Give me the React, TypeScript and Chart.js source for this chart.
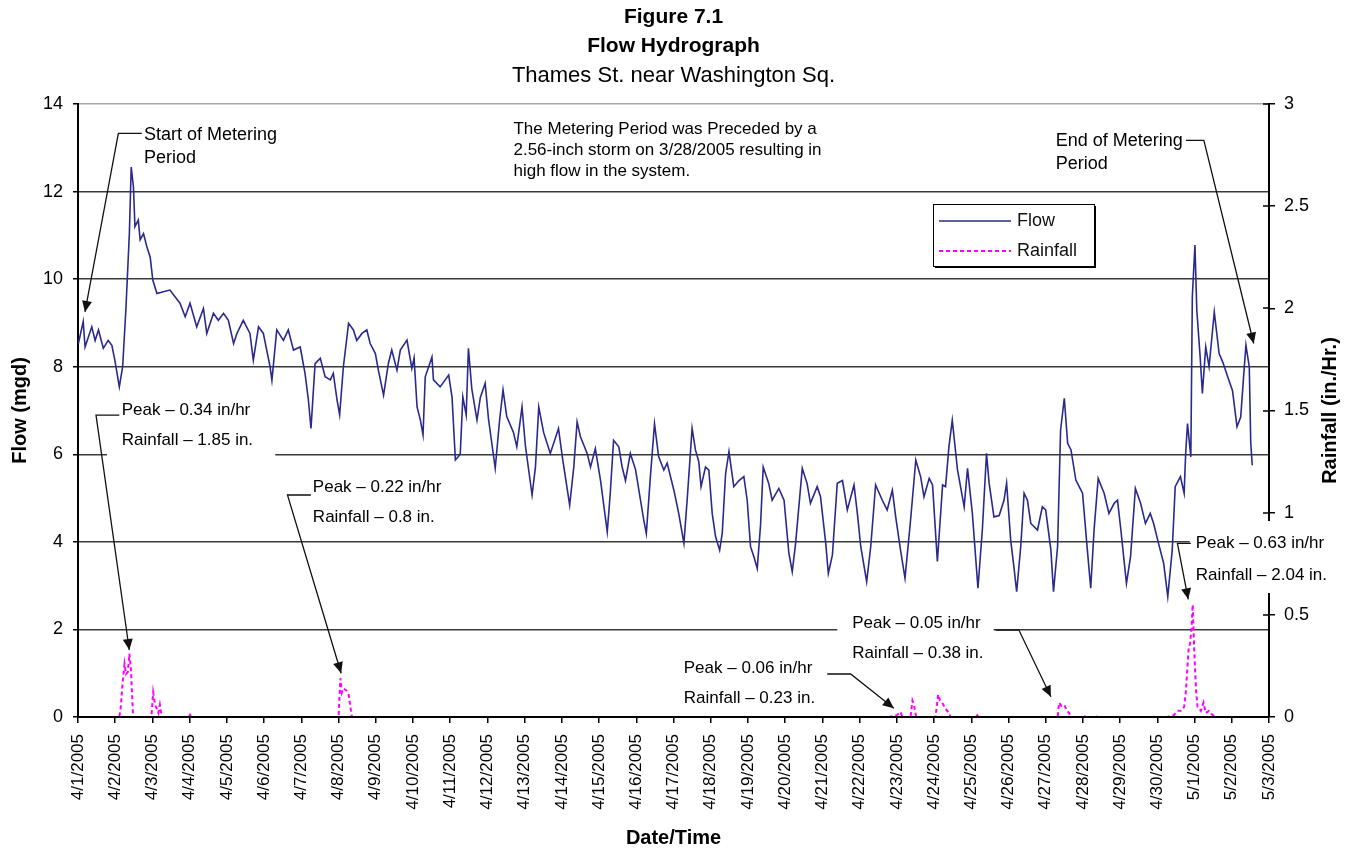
import React, { useEffect, useRef } from 'react';
import { Chart, registerables } from 'chart.js';

Chart.register(...registerables);

const FONT = "'Liberation Sans', Arial, Helvetica, sans-serif";

const dateLabels = [
  '4/1/2005', '4/2/2005', '4/3/2005', '4/4/2005', '4/5/2005', '4/6/2005', '4/7/2005', '4/8/2005',
  '4/9/2005', '4/10/2005', '4/11/2005', '4/12/2005', '4/13/2005', '4/14/2005', '4/15/2005', '4/16/2005',
  '4/17/2005', '4/18/2005', '4/19/2005', '4/20/2005', '4/21/2005', '4/22/2005', '4/23/2005', '4/24/2005',
  '4/25/2005', '4/26/2005', '4/27/2005', '4/28/2005', '4/29/2005', '4/30/2005', '5/1/2005', '5/2/2005',
  '5/3/2005',
];

// time in days since 4/1/2005 00:00
const flowDays = [
  0.01, 0.14, 0.19, 0.37, 0.46, 0.55, 0.68, 0.81, 0.91, 0.99, 1.11, 1.2, 1.29, 1.38, 1.43, 1.49, 1.53, 1.62, 1.67, 1.76,
  1.85, 1.94, 2.01, 2.12, 2.29, 2.47, 2.74, 2.88, 3.01, 3.19, 3.37, 3.46, 3.64, 3.77, 3.91, 4.04, 4.18, 4.27, 4.44, 4.62,
  4.71, 4.85, 4.98, 5.16, 5.21, 5.34, 5.52, 5.65, 5.79, 5.97, 6.1, 6.19, 6.26, 6.37, 6.51, 6.64, 6.78, 6.86, 6.96, 7.03,
  7.13, 7.27, 7.4, 7.49, 7.63, 7.76, 7.85, 7.99, 8.07, 8.21, 8.34, 8.43, 8.57, 8.66, 8.84, 8.97, 9.03, 9.11, 9.2, 9.27,
  9.33, 9.51, 9.55, 9.73, 9.96, 10.05, 10.14, 10.27, 10.34, 10.43, 10.49, 10.58, 10.72, 10.81, 10.94, 11.03, 11.21, 11.33, 11.42, 11.52,
  11.7, 11.79, 11.93, 12.02, 12.2, 12.29, 12.38, 12.51, 12.69, 12.91, 13.01, 13.21, 13.32, 13.41, 13.5, 13.68, 13.77, 13.9, 14.04, 14.22,
  14.3, 14.39, 14.53, 14.62, 14.71, 14.84, 14.98, 15.2, 15.27, 15.38, 15.49, 15.6, 15.74, 15.83, 16.01, 16.14, 16.28, 16.37, 16.5, 16.59,
  16.68, 16.74, 16.86, 16.95, 17.04, 17.13, 17.24, 17.31, 17.4, 17.49, 17.62, 17.76, 17.89, 17.98, 18.07, 18.16, 18.25, 18.34, 18.41, 18.56,
  18.65, 18.83, 18.97, 19.1, 19.19, 19.28, 19.46, 19.59, 19.68, 19.86, 19.95, 20.09, 20.16, 20.27, 20.4, 20.54, 20.67, 20.85, 20.94, 21.03,
  21.19, 21.3, 21.43, 21.61, 21.74, 21.88, 21.97, 22.1, 22.22, 22.37, 22.51, 22.64, 22.73, 22.87, 22.96, 23.09, 23.23, 23.31, 23.4, 23.49,
  23.63, 23.81, 23.9, 24.03, 24.18, 24.3, 24.41, 24.48, 24.61, 24.75, 24.88, 24.95, 25.06, 25.15, 25.22, 25.33, 25.42, 25.51, 25.6, 25.78,
  25.91, 26.0, 26.14, 26.21, 26.32, 26.4, 26.5, 26.59, 26.68, 26.81, 26.9, 26.99, 27.12, 27.21, 27.3, 27.41, 27.57, 27.7, 27.84, 27.93,
  28.02, 28.17, 28.28, 28.41, 28.55, 28.68, 28.81, 28.9, 29.03, 29.17, 29.28, 29.4, 29.48, 29.62, 29.72, 29.76, 29.81, 29.9, 29.94, 30.01,
  30.06, 30.15, 30.21, 30.3, 30.39, 30.53, 30.66, 30.76, 30.89, 31.02, 31.14, 31.24, 31.33, 31.38, 31.47, 31.51, 31.55,
];

// flow in mgd
const flowValues = [
  8.53, 9.03, 8.45, 8.91, 8.6, 8.84, 8.42, 8.6, 8.49, 8.15, 7.54, 8.0, 9.37, 11.04, 12.56, 12.1, 11.2, 11.35, 10.9, 11.04,
  10.74, 10.5, 9.98, 9.67, 9.71, 9.75, 9.45, 9.14, 9.45, 8.91, 9.33, 8.76, 9.22, 9.06, 9.22, 9.06, 8.53, 8.76, 9.06, 8.76,
  8.15, 8.91, 8.76, 8.0, 7.69, 8.84, 8.6, 8.84, 8.38, 8.45, 7.85, 7.24, 6.59, 8.07, 8.19, 7.77, 7.7, 7.85, 7.24, 6.9,
  8.0, 8.99, 8.84, 8.6, 8.76, 8.84, 8.53, 8.3, 7.92, 7.35, 8.08, 8.38, 7.92, 8.38, 8.61, 7.96, 8.2, 7.08, 6.78, 6.44,
  7.77, 8.22, 7.7, 7.54, 7.81, 7.3, 5.87, 6.0, 7.31, 6.9, 8.42, 7.5, 6.78, 7.3, 7.62, 6.8, 5.68, 6.8, 7.47, 6.86,
  6.5, 6.17, 7.08, 6.2, 5.07, 5.7, 7.08, 6.5, 6.02, 6.59, 5.96, 4.84, 5.7, 6.74, 6.4, 6.02, 5.71, 6.13, 5.4, 4.23,
  5.1, 6.32, 6.17, 5.71, 5.4, 6.02, 5.65, 4.5, 4.19, 5.5, 6.7, 5.95, 5.64, 5.8, 5.18, 4.65, 3.97, 5.0, 6.59, 6.1,
  5.83, 5.26, 5.71, 5.64, 4.65, 4.12, 3.81, 4.2, 5.56, 6.06, 5.26, 5.4, 5.49, 4.95, 3.89, 3.66, 3.39, 4.4, 5.71, 5.33,
  4.95, 5.22, 4.95, 3.74, 3.32, 3.96, 5.68, 5.33, 4.88, 5.26, 5.03, 3.97, 3.28, 3.7, 5.34, 5.4, 4.73, 5.3, 4.65, 3.9,
  3.09, 3.9, 5.3, 4.95, 4.73, 5.18, 4.57, 3.81, 3.17, 4.5, 5.87, 5.49, 5.03, 5.45, 5.3, 3.55, 5.3, 5.26, 6.17, 6.78,
  5.65, 4.8, 5.68, 4.65, 2.94, 4.3, 6.02, 5.34, 4.57, 4.6, 4.95, 5.34, 4.04, 3.4, 2.86, 3.9, 5.11, 4.95, 4.42, 4.27,
  4.8, 4.73, 3.81, 2.86, 3.9, 6.55, 7.28, 6.25, 6.1, 5.41, 5.26, 5.11, 3.81, 2.94, 4.27, 5.45, 5.11, 4.65, 4.88, 4.95,
  4.27, 3.05, 3.66, 5.22, 4.88, 4.42, 4.65, 4.42, 3.97, 3.51, 2.75, 3.81, 5.26, 5.49, 5.11, 6.0, 6.7, 5.94, 9.6, 10.78,
  9.29, 8.23, 7.39, 8.45, 8.0, 9.25, 8.3, 8.1, 7.77, 7.45, 6.63, 6.85, 7.92, 8.49, 8.0, 6.25, 5.75,
];

const rainDays = [
  0, 1.11, 1.15, 1.19, 1.25, 1.29, 1.34, 1.38, 1.42, 1.45, 1.48, 1.94, 1.98, 2.02, 2.07, 2.12, 2.16, 2.2, 2.25,
  2.98, 3.01, 3.04, 7.0, 7.05, 7.09, 7.13, 7.21, 7.27, 7.31, 7.36, 21.79, 22.01, 22.1, 22.15, 22.37, 22.42, 22.46, 22.52,
  23.04, 23.11, 23.16, 23.22, 23.31, 23.4, 23.45, 24.13, 24.16, 24.19, 26.32, 26.36, 26.42, 26.5, 26.57, 26.63, 26.67,
  27.0, 27.03, 27.06, 27.32, 27.35, 27.38, 29.27, 29.45, 29.54, 29.63, 29.72, 29.77, 29.81, 29.84, 29.88, 29.92, 29.95,
  29.99, 30.04, 30.08, 30.17, 30.24, 30.3, 30.39, 30.48, 30.57, 31.44, 31.47, 31.5, 31.55,
];

// rainfall intensity in in./hr
const rainValues = [
  0, 0, 0.05, 0.15, 0.26, 0.21, 0.22, 0.31, 0.24, 0.12, 0, 0, 0.02, 0.12, 0.06, 0.04, 0.02, 0.06, 0,
  0, 0.01, 0, 0, 0.19, 0.12, 0.14, 0.13, 0.11, 0.06, 0, 0, 0.01, 0.025, 0, 0, 0.08, 0.06, 0,
  0, 0.11, 0.08, 0.07, 0.04, 0.02, 0, 0, 0.008, 0, 0, 0.07, 0.055, 0.06, 0.03, 0.02, 0,
  0, 0.008, 0, 0, 0.008, 0, 0, 0.01, 0.03, 0.03, 0.05, 0.13, 0.25, 0.33, 0.36, 0.44, 0.55,
  0.33, 0.13, 0.05, 0.03, 0.07, 0.02, 0.03, 0.01, 0, 0, 0.008, 0, 0,
];

const titleLines = ['Figure 7.1', 'Flow Hydrograph', 'Thames St. near Washington Sq.'];

type Note = {
  lines: string[];
  at: [number, number]; // day, flow of first text line (left, middle)
  gap: number;
  size: number;
  box?: [number, number, number, number]; // day0, flow0, day1, flow1
  leader?: [number, number][];
};

// annotation placement in data units (day, flow)
const notes: Note[] = [
  { lines: ['Start of Metering', 'Period'], at: [1.775, 13.29], gap: 23, size: 18,
    leader: [[1.713, 13.33], [1.084, 13.33], [0.188, 9.25]] },
  { lines: ['The Metering Period was Preceded by a', '2.56-inch storm on 3/28/2005 resulting in', 'high flow in the system.'],
    at: [11.7, 13.43], gap: 21, size: 17 },
  { lines: ['End of Metering', 'Period'], at: [26.27, 13.15], gap: 23, size: 18,
    leader: [[29.77, 13.17], [30.25, 13.17], [31.59, 8.53]] },
  { lines: ['Peak \u2013 0.34 in/hr', 'Rainfall \u2013 1.85 in.'], at: [1.175, 7.01], gap: 30, size: 17,
    box: [0.78, 7.35, 5.3, 5.82], leader: [[1.11, 6.895], [0.484, 6.895], [1.379, 1.53]] },
  { lines: ['Peak \u2013 0.22 in/hr', 'Rainfall \u2013 0.8 in.'], at: [6.31, 5.235], gap: 30, size: 17,
    box: [5.92, 5.6, 10.27, 4.16], leader: [[6.257, 5.07], [5.628, 5.07], [7.07, 1.0]] },
  { lines: ['Peak \u2013 0.06 in/hr', 'Rainfall \u2013 0.23 in.'], at: [16.276, 1.112], gap: 30, size: 17,
    leader: [[20.13, 0.982], [20.76, 0.982], [21.92, 0.199]] },
  { lines: ['Peak \u2013 0.05 in/hr', 'Rainfall \u2013 0.38 in.'], at: [20.8, 2.139], gap: 30, size: 17,
    box: [20.4, 2.557, 24.6, 1.073], leader: [[24.66, 1.986], [25.28, 1.986], [26.14, 0.463]] },
  { lines: ['Peak \u2013 0.63 in/hr', 'Rainfall \u2013 2.04 in.'], at: [30.03, 3.966], gap: 31.5, size: 17,
    box: [29.87, 4.475, 33.79, 2.831], leader: [[29.9, 3.966], [29.54, 3.966], [29.83, 2.687]] },
];

const legendAt: [number, number] = [22.96, 11.71];

function arrowHead(ctx: CanvasRenderingContext2D, x0: number, y0: number, x1: number, y1: number) {
  const a = Math.atan2(y1 - y0, x1 - x0);
  const L = 11;
  const W = 5;
  ctx.beginPath();
  ctx.moveTo(x1, y1);
  ctx.lineTo(x1 - L * Math.cos(a) + W * Math.sin(a), y1 - L * Math.sin(a) - W * Math.cos(a));
  ctx.lineTo(x1 - L * Math.cos(a) - W * Math.sin(a), y1 - L * Math.sin(a) + W * Math.cos(a));
  ctx.closePath();
  ctx.fill();
}

const notesPlugin = {
  id: 'hydroNotes',
  afterDraw(chart: any) {
    const { ctx, chartArea, scales } = chart;
    const xs = scales.x;
    const ys = scales.y;
    const y1 = scales.y1;
    const px = (d: number) => xs.getPixelForValue(d);
    const py = (f: number) => ys.getPixelForValue(f);
    const cx = (chartArea.left + chartArea.right) / 2;
    ctx.save();

    // inner tick marks on the rainfall axis
    ctx.strokeStyle = '#000';
    ctx.lineWidth = 1.5;
    y1.ticks.forEach((t: any) => {
      const yy = Math.round(y1.getPixelForValue(t.value));
      ctx.beginPath();
      ctx.moveTo(chartArea.right - 6, yy);
      ctx.lineTo(chartArea.right, yy);
      ctx.stroke();
    });

    // white text boxes
    ctx.fillStyle = '#fff';
    notes.forEach((n) => {
      if (!n.box) return;
      const [d0, f0, d1, f1] = n.box;
      ctx.fillRect(px(d0), py(f0), px(d1) - px(d0), py(f1) - py(f0));
    });

    // texts
    ctx.fillStyle = '#000';
    ctx.textAlign = 'left';
    ctx.textBaseline = 'middle';
    notes.forEach((n) => {
      ctx.font = `${n.size}px ${FONT}`;
      const x0 = px(n.at[0]);
      const y0 = py(n.at[1]);
      n.lines.forEach((s, i) => ctx.fillText(s, x0, y0 + i * n.gap));
    });

    // leaders with arrow heads
    ctx.strokeStyle = '#111';
    ctx.fillStyle = '#111';
    ctx.lineWidth = 1.3;
    notes.forEach((n) => {
      if (!n.leader) return;
      const pts = n.leader.map(([d, f]) => [px(d), py(f)]);
      ctx.beginPath();
      pts.forEach(([x, y], i) => (i ? ctx.lineTo(x, y) : ctx.moveTo(x, y)));
      ctx.stroke();
      const a = pts[pts.length - 2];
      const b = pts[pts.length - 1];
      arrowHead(ctx, a[0], a[1], b[0], b[1]);
    });

    // legend
    const lx = Math.round(px(legendAt[0]));
    const ly = Math.round(py(legendAt[1]));
    const lw = 161;
    const lh = 62;
    ctx.fillStyle = '#000';
    ctx.fillRect(lx + 2, ly + 2, lw, lh);
    ctx.fillStyle = '#fff';
    ctx.fillRect(lx, ly, lw, lh);
    ctx.strokeStyle = '#000';
    ctx.lineWidth = 1;
    ctx.strokeRect(lx + 0.5, ly + 0.5, lw, lh);
    chart.data.datasets.forEach((ds: any, i: number) => {
      const yy = ly + 17 + i * 30;
      ctx.strokeStyle = ds.borderColor;
      ctx.lineWidth = ds.borderWidth;
      ctx.setLineDash(ds.borderDash || []);
      ctx.beginPath();
      ctx.moveTo(lx + 6, yy);
      ctx.lineTo(lx + 78, yy);
      ctx.stroke();
      ctx.setLineDash([]);
      ctx.fillStyle = '#111';
      ctx.font = `18px ${FONT}`;
      ctx.fillText(ds.label, lx + 84, yy);
    });

    // titles
    ctx.fillStyle = '#000';
    ctx.textAlign = 'center';
    ctx.font = `bold 21px ${FONT}`;
    ctx.fillText(titleLines[0], cx, 17);
    ctx.fillText(titleLines[1], cx, 46);
    ctx.font = `22px ${FONT}`;
    ctx.fillText(titleLines[2], cx, 76);

    // axis titles
    const cy = (chartArea.top + chartArea.bottom) / 2;
    ctx.font = `bold 20px ${FONT}`;
    ctx.fillText('Date/Time', cx, 838);
    ctx.save();
    ctx.translate(20, cy);
    ctx.rotate(-Math.PI / 2);
    ctx.fillText('Flow (mgd)', 0, 0);
    ctx.restore();
    ctx.save();
    ctx.translate(1330, cy);
    ctx.rotate(-Math.PI / 2);
    ctx.fillText('Rainfall (in./Hr.)', 0, 0);
    ctx.restore();

    ctx.restore();
  },
};

export default function App() {
  const ref = useRef<HTMLCanvasElement>(null);
  useEffect(() => {
    const chart = new Chart(ref.current as HTMLCanvasElement, {
      type: 'line',
      data: {
        datasets: [
          {
            label: 'Flow',
            data: flowDays.map((d, i) => ({ x: d, y: flowValues[i] })),
            yAxisID: 'y',
            borderColor: '#2a2a8e',
            borderWidth: 1.6,
            pointRadius: 0,
            tension: 0,
            order: 1,
          },
          {
            label: 'Rainfall',
            data: rainDays.map((d, i) => ({ x: d, y: rainValues[i] })),
            yAxisID: 'y1',
            borderColor: '#ff00ff',
            borderWidth: 2,
            borderDash: [4, 3],
            pointRadius: 0,
            tension: 0,
            order: 2,
          },
        ],
      },
      options: {
        responsive: false,
        animation: false,
        devicePixelRatio: 1,
        layout: { padding: { top: 104, left: 0, right: 0, bottom: 0 } },
        plugins: { legend: { display: false }, tooltip: { enabled: false } },
        scales: {
          x: {
            type: 'linear',
            min: 0,
            max: 32,
            afterFit: (s: any) => { s.height = 133; },
            border: { display: true, color: '#000', width: 2, z: 1 },
            grid: { drawOnChartArea: false, drawTicks: true, tickLength: 6, color: '#000', lineWidth: 1.5 },
            ticks: {
              stepSize: 1,
              autoSkip: false,
              maxRotation: 90,
              minRotation: 90,
              padding: 11,
              color: '#000',
              font: { family: FONT, size: 17 },
              callback: (v: any) => dateLabels[Math.round(Number(v))] ?? '',
            },
          },
          y: {
            position: 'left',
            min: 0,
            max: 14,
            afterFit: (s: any) => { s.width = 78; },
            border: { color: '#000', width: 2 },
            grid: {
              color: (c: any) => (c.tick && c.tick.value === 14 ? '#a8a8a8' : '#3a3a3a'),
              tickColor: '#000',
              lineWidth: 1.5,
              tickLength: 5,
            },
            ticks: { stepSize: 2, padding: 10, color: '#000', font: { family: FONT, size: 18 } },
          },
          y1: {
            position: 'right',
            min: 0,
            max: 3,
            afterFit: (s: any) => { s.width = 82; },
            border: { color: '#000', width: 2 },
            grid: { drawOnChartArea: false, tickLength: 6, color: '#000', lineWidth: 1.5 },
            ticks: {
              stepSize: 0.5,
              padding: 9,
              color: '#000',
              font: { family: FONT, size: 18 },
              callback: (v: any) => String(Number(v)),
            },
          },
        },
      },
      plugins: [notesPlugin],
    } as any);
    return () => chart.destroy();
  }, []);
  return (
    <div style={{ position: 'fixed', left: 0, top: 0, width: 1351, height: 850, background: '#fff' }}>
      <canvas ref={ref} width={1351} height={850} style={{ width: 1351, height: 850, display: 'block' }} />
    </div>
  );
}
